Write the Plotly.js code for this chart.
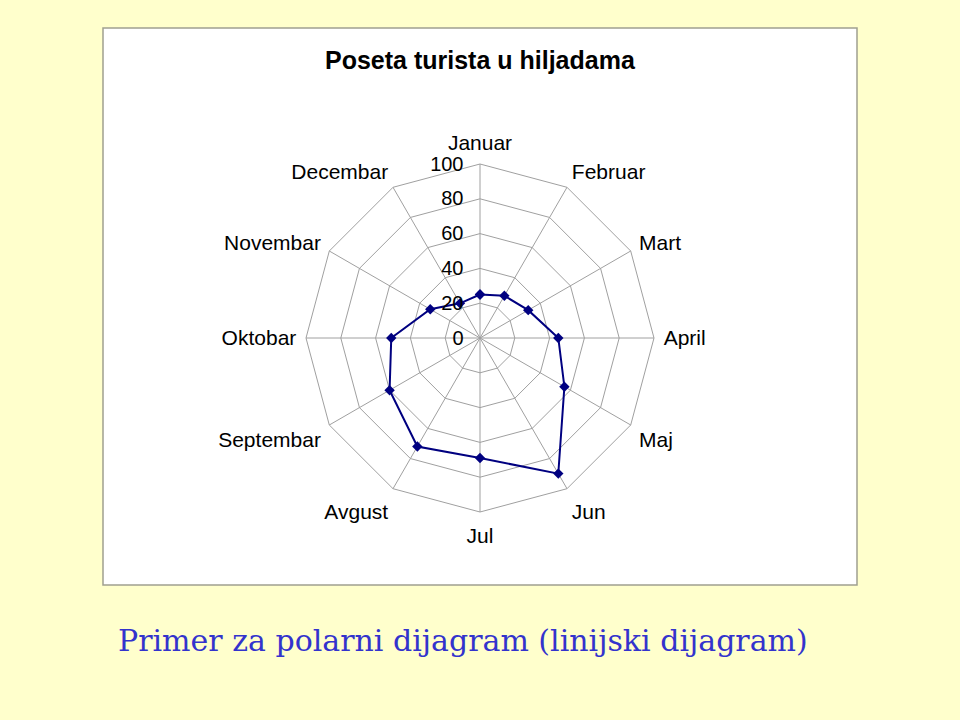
<!DOCTYPE html>
<html>
<head>
<meta charset="utf-8">
<script src="https://cdn.plot.ly/plotly-3.0.1.min.js"></script>
<style>
  html, body { margin: 0; padding: 0; background: #ffffcc; }
  #chart { width: 960px; height: 720px; }
</style>
</head>
<body>
<div id="chart"></div>
<script>
let months = ['Januar', 'Februar', 'Mart', 'April', 'Maj', 'Jun',
  'Jul', 'Avgust', 'Septembar', 'Oktobar', 'Novembar', 'Decembar'];
let visitors = [25, 28, 32, 45, 56, 90, 69, 72, 60, 51, 33, 23];
let radialTicks = [0, 20, 40, 60, 80, 100];

// close the loop back to Januar
let trace = {
  type: 'scatterpolar',
  r: visitors.concat([visitors[0]]),
  theta: months.concat([months[0]]),
  mode: 'lines+markers',
  line: { color: '#000080', width: 2 },
  marker: { symbol: 'diamond', size: 8, color: '#000080' },
  hoverinfo: 'skip'
};

let layout = {
  width: 960,
  height: 720,
  paper_bgcolor: '#ffffcc',
  showlegend: false,
  margin: { l: 0, r: 0, t: 0, b: 0 },
  font: { family: 'Liberation Sans, Arial, sans-serif', size: 21, color: '#000' },
  shapes: [
    {
      type: 'rect', xref: 'paper', yref: 'paper', layer: 'below',
      x0: 103 / 960, x1: 857 / 960, y0: 1 - 585 / 720, y1: 1 - 28 / 720,
      fillcolor: '#ffffff', line: { color: '#a0a090', width: 1.5 }
    }
  ],
  annotations: [
    {
      xref: 'paper', yref: 'paper', x: 0.5, y: 1 - 60 / 720,
      xanchor: 'center', yanchor: 'middle', showarrow: false,
      text: '<b>Poseta turista u hiljadama</b>',
      font: { family: 'Liberation Sans, Arial, sans-serif', size: 25, color: '#000' }
    },
    {
      xref: 'paper', yref: 'paper', x: 463 / 960, y: 1 - 640 / 720,
      xanchor: 'center', yanchor: 'middle', showarrow: false,
      text: 'Primer za polarni dijagram (linijski dijagram)',
      font: { family: 'DejaVu Serif, serif', size: 30, color: '#3333cc' }
    }
  ],
  polar: {
    domain: { x: [306 / 960, 654 / 960], y: [1 - 512 / 720, 1 - 164 / 720] },
    bgcolor: 'rgba(0,0,0,0)',
    gridshape: 'linear',
    angularaxis: {
      direction: 'clockwise',
      rotation: 90,
      showline: true,
      linecolor: '#a0a0a0',
      linewidth: 1,
      gridcolor: '#a0a0a0',
      ticks: 'outside',
      ticklen: 5,
      tickcolor: 'rgba(0,0,0,0)',
      tickfont: { size: 21 }
    },
    radialaxis: {
      range: [0, 100],
      tickvals: radialTicks,
      angle: 90,
      tickangle: 90,
      side: 'counterclockwise',
      showline: false,
      gridcolor: '#a0a0a0',
      ticks: 'outside',
      ticklen: 9,
      tickcolor: 'rgba(0,0,0,0)',
      tickfont: { size: 20 }
    }
  }
};

Plotly.newPlot('chart', [trace], layout, { displayModeBar: false, staticPlot: true });
</script>
</body>
</html>
